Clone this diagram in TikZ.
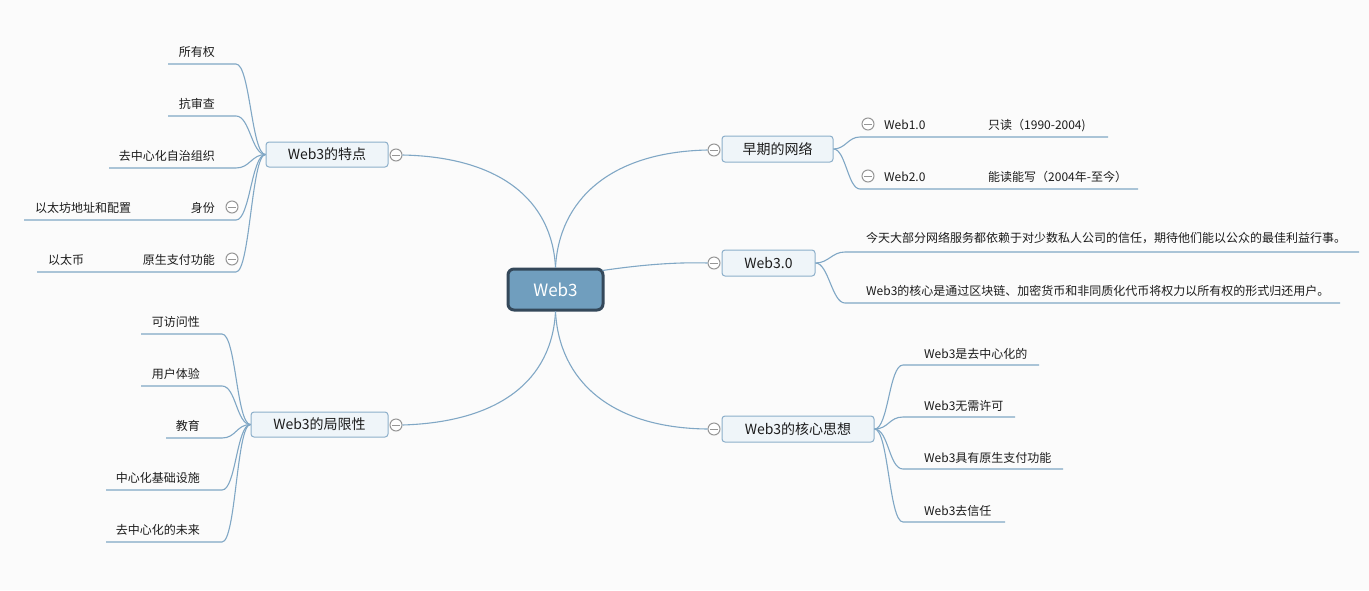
\documentclass[tikz,border=0pt]{standalone}
\usepackage{fontspec}
\setmainfont{Noto Sans CJK SC}
\definecolor{bg}{RGB}{251,251,251}
\definecolor{lnk}{RGB}{128,167,197}
\definecolor{boxfill}{RGB}{239,245,249}
\definecolor{boxdraw}{RGB}{140,175,202}
\definecolor{rootfill}{RGB}{112,158,190}
\definecolor{rootdraw}{RGB}{52,72,90}
\definecolor{txt}{RGB}{28,28,28}
\definecolor{foldc}{RGB}{150,150,150}
\tikzset{
  rootbox/.style={draw=rootdraw, fill=rootfill, rounded corners=6pt, line width=3pt, text=white, font=\fontsize{17}{19}\selectfont, inner sep=0pt, minimum width=95pt, minimum height=41pt},
  topic/.style={draw=boxdraw, fill=boxfill, rounded corners=3pt, line width=1pt, text=txt, font=\fontsize{14}{16}\selectfont, inner sep=0pt, minimum height=26pt},
  sub/.style={text=txt, font=\fontsize{12}{14}\selectfont, inner sep=0pt},
  link/.style={draw=lnk, line width=1.1pt},
  fold/.style={circle, draw=foldc, fill=white, line width=1pt, minimum size=12pt, inner sep=0pt,
    path picture={\draw[foldc, line width=1pt] ([xshift=-4pt]path picture bounding box.center) -- ([xshift=4pt]path picture bounding box.center);}}
}
\begin{document}
\begin{tikzpicture}[x=1pt,y=-1pt]
\useasboundingbox (0,0) rectangle (1369,590);
\fill[bg] (0,0) rectangle (1369,590);

% root and topics
\node[rootbox] (root) at (555.5,289.5) {Web3};
\node[topic, minimum width=122pt, minimum height=25pt] (t1) at (327,154.5) {Web3的特点};
\node[topic, minimum width=137pt, minimum height=25pt] (t2) at (319.5,424.5) {Web3的局限性};
\node[topic, minimum width=111pt] (t3) at (777.5,149) {早期的网络};
\node[topic, minimum width=93pt] (t4) at (768.5,263) {Web3.0};
\node[topic, minimum width=152pt] (t5) at (798,429) {Web3的核心思想};

\node[fold] (f1) at (396,155) {};
\node[fold] (f2) at (396,425) {};
\node[fold] (f3) at (714,150) {};
\node[fold] (f4) at (714,263) {};
\node[fold] (f5) at (714,429) {};

% root links
\draw[link] (root.north) .. controls (552,200) and (500,157) .. (f1.east);
\draw[link] (root.north) .. controls (559,200) and (610,152) .. (f3.west);
\draw[link] ([xshift=-2pt,yshift=-3pt]root.north east) .. controls (640,265) and (675,262) .. (f4.west);
\draw[link] (root.south) .. controls (552,380) and (500,422) .. (f2.east);
\draw[link] (root.south) .. controls (559,380) and (610,428) .. (f5.west);

% Web3的特点 children
\node[sub, anchor=base east] (a1) at (215,56) {所有权};
\node[sub, anchor=base east] (a2) at (215,108) {抗审查};
\node[sub, anchor=base east] (a3) at (215,160) {去中心化自治组织};
\node[sub, anchor=base east] (a4) at (215,212) {身份};
\node[sub, anchor=base west] (a4c) at (35,212) {以太坊地址和配置};
\node[fold] (fa4) at (232,207) {};
\node[sub, anchor=base east] (a5) at (215,264) {原生支付功能};
\node[sub, anchor=base west] (a5c) at (48,264) {以太币};
\node[fold] (fa5) at (232,259) {};
\coordinate (a1l) at (168,64);  \coordinate (a1r) at (236,64);
\coordinate (a2l) at (168,116); \coordinate (a2r) at (236,116);
\coordinate (a3l) at (109,168); \coordinate (a3r) at (236,168);
\coordinate (a4l) at (24,220);  \coordinate (a4r) at (236,220);
\coordinate (a5l) at (37,272);  \coordinate (a5r) at (236,272);
\foreach \i in {1,...,5}{
  \draw[link] (a\i l) -- (a\i r) .. controls +(14,0) and +(-14,0) .. (t1.west);
}

% Web3的局限性 children
\node[sub, anchor=base east] (b1) at (200,326) {可访问性};
\node[sub, anchor=base east] (b2) at (200,378) {用户体验};
\node[sub, anchor=base east] (b3) at (200,430) {教育};
\node[sub, anchor=base east] (b4) at (200,482) {中心化基础设施};
\node[sub, anchor=base east] (b5) at (200,534) {去中心化的未来};
\coordinate (b1l) at (141,334); \coordinate (b1r) at (222,334);
\coordinate (b2l) at (141,386); \coordinate (b2r) at (222,386);
\coordinate (b3l) at (166,438); \coordinate (b3r) at (222,438);
\coordinate (b4l) at (106,490); \coordinate (b4r) at (222,490);
\coordinate (b5l) at (106,542); \coordinate (b5r) at (222,542);
\foreach \i in {1,...,5}{
  \draw[link] (b\i l) -- (b\i r) .. controls +(14,0) and +(-14,0) .. (t2.west);
}

% 早期的网络 children
\node[fold] (fc1) at (868,124) {};
\node[sub, anchor=base west] (c1) at (884,129) {Web1.0};
\node[sub, anchor=base west] (c1c) at (988,129) {只读（1990-2004)};
\node[fold] (fc2) at (868,176) {};
\node[sub, anchor=base west] (c2) at (884,181) {Web2.0};
\node[sub, anchor=base west] (c2c) at (988,181) {能读能写（2004年-至今）};
\coordinate (c1l) at (860,137); \coordinate (c1r) at (1108,137);
\coordinate (c2l) at (860,189); \coordinate (c2r) at (1138,189);
\foreach \i in {1,2}{
  \draw[link] (t3.east) .. controls +(12,0) and +(-12,0) .. (c\i l) -- (c\i r);
}

% Web3.0 children
\node[sub, anchor=base west] (d1) at (866,242) {今天大部分网络服务都依赖于对少数私人公司的信任，期待他们能以公众的最佳利益行事。};
\node[sub, anchor=base west] (d2) at (866,295) {Web3的核心是通过区块链、加密货币和非同质化代币将权力以所有权的形式归还用户。};
\coordinate (d1l) at (845,252); \coordinate (d1r) at (1359,252);
\coordinate (d2l) at (845,303); \coordinate (d2r) at (1340,303);
\foreach \i in {1,2}{
  \draw[link] (t4.east) .. controls +(13,0) and +(-13,0) .. (d\i l) -- (d\i r);
}

% Web3的核心思想 children
\node[sub, anchor=base west] (e1) at (924,358) {Web3是去中心化的};
\node[sub, anchor=base west] (e2) at (924,410) {Web3无需许可};
\node[sub, anchor=base west] (e3) at (924,462) {Web3具有原生支付功能};
\node[sub, anchor=base west] (e4) at (924,515) {Web3去信任};
\coordinate (e1l) at (903,365); \coordinate (e1r) at (1039,365);
\coordinate (e2l) at (903,417); \coordinate (e2r) at (1015,417);
\coordinate (e3l) at (903,469); \coordinate (e3r) at (1063,469);
\coordinate (e4l) at (903,522); \coordinate (e4r) at (1005,522);
\foreach \i in {1,...,4}{
  \draw[link] (t5.east) .. controls +(14,0) and +(-14,0) .. (e\i l) -- (e\i r);
}
\end{tikzpicture}
\end{document}
